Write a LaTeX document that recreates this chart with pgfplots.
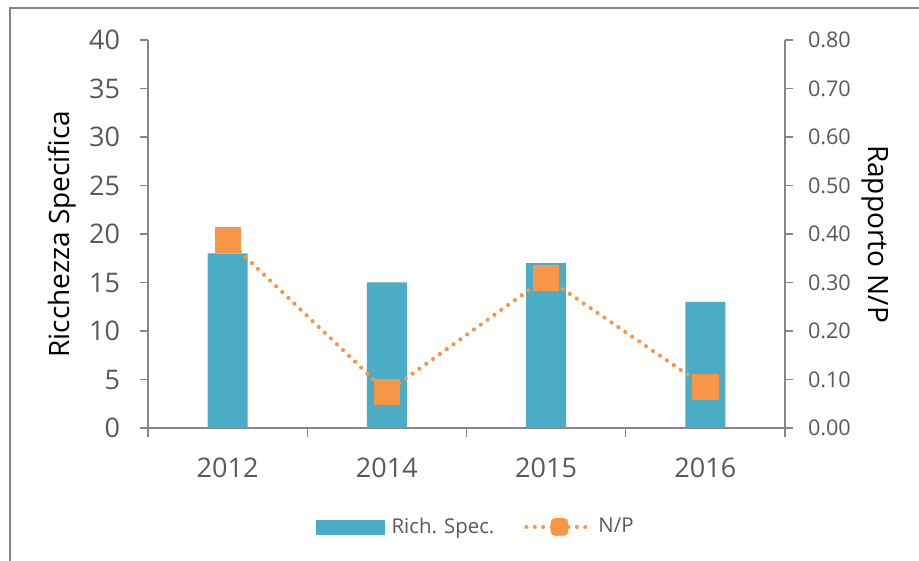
\documentclass[border=0pt]{standalone}
\usepackage{pgfplots}
\pgfplotsset{compat=1.18}
\usepackage{fontspec}
\setmainfont{Open Sans}
\definecolor{barblue}{HTML}{4BACC6}
\definecolor{lineorange}{HTML}{F79646}
\definecolor{axisgray}{HTML}{868686}
\definecolor{tickgray}{HTML}{595959}
\pgfdeclareplotmark{rsquare}{%
  \pgfsetcornersarced{\pgfpoint{0.45\pgfplotmarksize}{0.45\pgfplotmarksize}}%
  \pgfpathmoveto{\pgfqpoint{0pt}{-\pgfplotmarksize}}%
  \pgfpathlineto{\pgfqpoint{\pgfplotmarksize}{-\pgfplotmarksize}}%
  \pgfpathlineto{\pgfqpoint{\pgfplotmarksize}{\pgfplotmarksize}}%
  \pgfpathlineto{\pgfqpoint{-\pgfplotmarksize}{\pgfplotmarksize}}%
  \pgfpathlineto{\pgfqpoint{-\pgfplotmarksize}{-\pgfplotmarksize}}%
  \pgfpathclose
  \pgfusepathqfillstroke}
\begin{document}
\begin{tikzpicture}
\useasboundingbox (-74bp,-66.5bp) rectangle (385.5bp,214bp);
\begin{axis}[
  at={(0,0)}, anchor=south west,
  scale only axis, width=318.5bp, height=194bp,
  xmin=-0.5, xmax=3.5, ymin=0, ymax=40,
  axis y line*=left, axis x line*=bottom,
  axis line style={axisgray, line width=0.7bp, -},
  xtick={0,1,2,3}, xticklabels={2012,2014,2015,2016},
  minor xtick={-0.5,0.5,1.5,2.5,3.5},
  ytick={0,5,10,15,20,25,30,35,40},
  tick align=outside,
  major x tick style={draw=none},
  minor tick length=4.5bp,
  major tick length=4bp,
  every tick/.style={axisgray, line width=0.7bp},
  minor tick style={axisgray, line width=0.7bp},
  ticklabel style={font=\fontsize{13.5bp}{16bp}\selectfont, text=tickgray},
  xticklabel style={yshift=-7.5bp},
  yticklabel style={xshift=-6.5bp},
  /pgf/number format/assume math mode=true,
  ylabel={Ricchezza Specifica},
  ylabel style={font=\fontsize{14bp}{17bp}\selectfont, at={(axis description cs:-0.135,0.5)}, anchor=center},
]
\addplot[ybar, bar width=0.25, fill=barblue, draw=none] coordinates {(0,18) (1,15) (2,17) (3,13)};
\end{axis}
\begin{axis}[
  at={(0,0)}, anchor=south west,
  scale only axis, width=318.5bp, height=194bp,
  xmin=-0.5, xmax=3.5, ymin=0, ymax=0.8,
  axis y line*=right, axis x line=none,
  axis line style={axisgray, line width=0.7bp, -},
  ytick={0,0.1,0.2,0.3,0.4,0.5,0.6,0.7,0.8},
  tick align=outside,
  major tick length=4bp,
  every tick/.style={axisgray, line width=0.7bp},
  yticklabel style={font=\fontsize{10.8bp}{13bp}\selectfont, text=tickgray, xshift=4bp,
    /pgf/number format/fixed, /pgf/number format/fixed zerofill, /pgf/number format/precision=2},
  /pgf/number format/assume math mode=true,
  ylabel={Rapporto N/P},
  ylabel style={font=\fontsize{14bp}{17bp}\selectfont, rotate=180, at={(axis description cs:1.141,0.5)}, anchor=center},
  legend columns=2,
  legend style={at={(0.516,-0.255)}, anchor=center, draw=none, fill=none,
    font=\fontsize{10.2bp}{12bp}\selectfont, text=tickgray,
    /tikz/every even column/.append style={column sep=13bp}},
  legend cell align=left,
]
\addlegendimage{legend image code/.code={\fill[barblue] (0bp,-3.5bp) rectangle (34bp,3.5bp); \path (35.5bp,0bp);}}
\addlegendentry{Rich. Spec.}
\addlegendimage{legend image code/.code={
  \draw[lineorange, line width=2bp, line cap=round, dash pattern=on 0bp off 4.2bp] (0bp,0bp) -- (33bp,0bp);
  \fill[lineorange, rounded corners=2bp] (12.3bp,-4.2bp) rectangle (20.7bp,4.2bp);}}
\addlegendentry{N/P}
\addplot[forget plot, lineorange, line width=2.1bp, line cap=round, dash pattern=on 0bp off 4.2bp,
  mark=rsquare, mark size=6.3bp,
  mark options={solid, fill=lineorange, draw=lineorange, line width=0.4bp}]
  coordinates {(0,0.388) (1,0.074) (2,0.31) (3,0.085)};
\end{axis}
\draw[axisgray, line width=1bp] (-69bp,-80bp) -- (-69bp,210bp) -- (400bp,210bp);
\end{tikzpicture}
\end{document}
